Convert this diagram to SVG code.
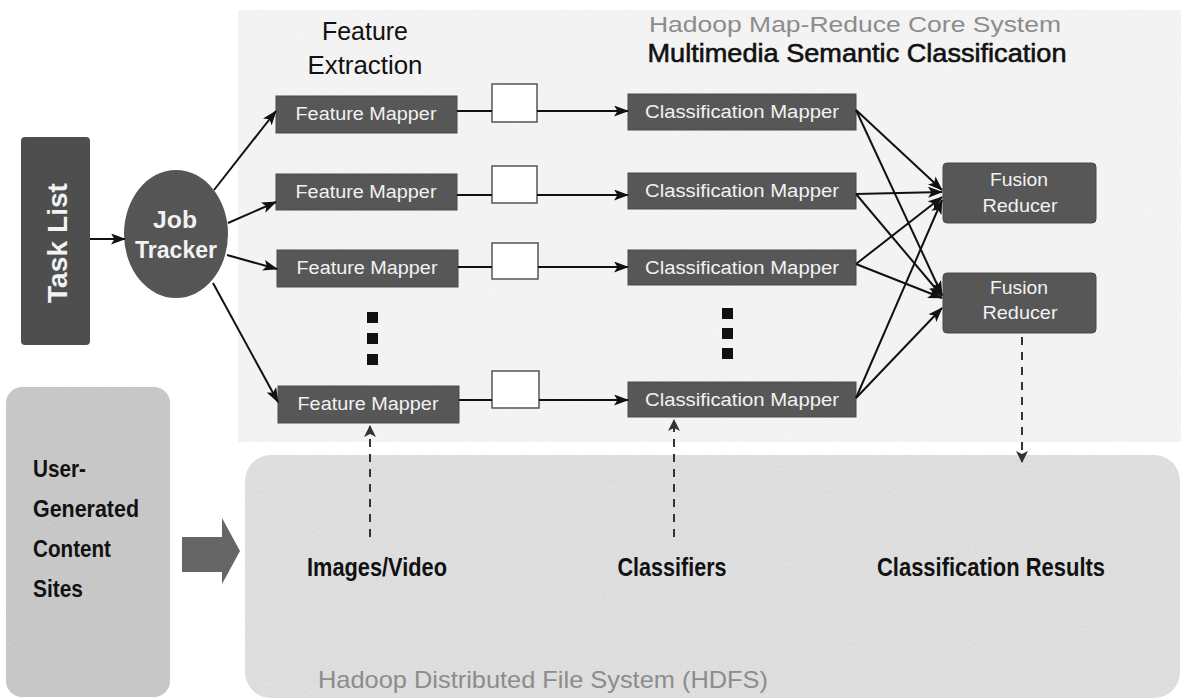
<svg xmlns="http://www.w3.org/2000/svg" width="1181" height="700" viewBox="0 0 1181 700">
  <defs>
    <marker id="arrow" viewBox="0 0 15 11" refX="14" refY="5.5" markerWidth="15" markerHeight="11" markerUnits="userSpaceOnUse" orient="auto">
      <path d="M0,0 L15,5.5 L0,11 L3.5,5.5 Z" fill="#111"/>
    </marker>
    <marker id="arrowDash" viewBox="0 0 12 12" refX="11" refY="6" markerWidth="12" markerHeight="12" markerUnits="userSpaceOnUse" orient="auto">
      <path d="M0,0 L12,6 L0,12 L3,6 Z" fill="#333"/>
    </marker>
    <!-- speckled paper texture for the large shaded areas -->
    <filter id="grain" x="0" y="0" width="100%" height="100%">
      <feTurbulence type="fractalNoise" baseFrequency="0.9 0.35" numOctaves="2" seed="3" result="n"/>
      <feColorMatrix in="n" type="matrix" values="0 0 0 0 0  0 0 0 0 0  0 0 0 0 0  0 0 0 0.12 0" result="dots"/>
      <feComposite in="dots" in2="SourceGraphic" operator="in" result="mask"/>
      <feMerge><feMergeNode in="SourceGraphic"/><feMergeNode in="mask"/></feMerge>
    </filter>
    <filter id="grainLight" x="0" y="0" width="100%" height="100%">
      <feTurbulence type="fractalNoise" baseFrequency="0.9 0.35" numOctaves="2" seed="7" result="n"/>
      <feColorMatrix in="n" type="matrix" values="0 0 0 0 0  0 0 0 0 0  0 0 0 0 0  0 0 0 0.05 0" result="dots"/>
      <feComposite in="dots" in2="SourceGraphic" operator="in" result="mask"/>
      <feMerge><feMergeNode in="SourceGraphic"/><feMergeNode in="mask"/></feMerge>
    </filter>
  </defs>
  <style>
    .box { fill: #575757; stroke: #4a4a4a; stroke-width: 1; }
    .sq { fill: #ffffff; stroke: #555; stroke-width: 1.5; }
    .wt { font-family: "Liberation Sans", Arial, sans-serif; fill: #f2f2f2; text-anchor: middle; }
    .bk { font-family: "Liberation Sans", Arial, sans-serif; fill: #111; text-anchor: middle; }
    .gr { font-family: "Liberation Sans", Arial, sans-serif; fill: #8c8c8c; }
    .b { font-weight: bold; }
    .conn { stroke: #111; stroke-width: 2; fill: none; }
    .dash { stroke: #333; stroke-width: 2; fill: none; stroke-dasharray: 8 7; }
    .dot { fill: #111; }
  </style>

  <rect width="1181" height="700" fill="#ffffff"/>

  <!-- background panels -->
  <g id="core-panel">
    <rect x="238" y="10" width="943" height="432" fill="#f6f6f6" filter="url(#grainLight)"/>
    <text class="gr" x="855" y="32" font-size="22" text-anchor="middle" textLength="412" lengthAdjust="spacingAndGlyphs">Hadoop Map-Reduce Core System</text>
    <text class="bk" x="857" y="62" font-size="26" stroke="#111" stroke-width="0.6" textLength="419" lengthAdjust="spacingAndGlyphs">Multimedia Semantic Classification</text>
    <text class="bk" x="365" y="40" font-size="25" textLength="86" lengthAdjust="spacingAndGlyphs">Feature</text>
    <text class="bk" x="365" y="74" font-size="25" textLength="115" lengthAdjust="spacingAndGlyphs">Extraction</text>
  </g>

  <g id="hdfs">
    <rect x="245" y="455" width="935" height="243" rx="26" fill="#e4e4e4" filter="url(#grain)"/>
    <text class="gr" x="318" y="688" font-size="24" textLength="450" lengthAdjust="spacingAndGlyphs">Hadoop Distributed File System (HDFS)</text>
    <text class="bk b" x="377" y="576" font-size="25" textLength="140" lengthAdjust="spacingAndGlyphs">Images/Video</text>
    <text class="bk b" x="672" y="576" font-size="25" textLength="109" lengthAdjust="spacingAndGlyphs">Classifiers</text>
    <text class="bk b" x="991" y="576" font-size="25" textLength="228" lengthAdjust="spacingAndGlyphs">Classification Results</text>
  </g>

  <g id="ugc-sites">
    <rect x="6" y="387" width="164" height="310" rx="16" fill="#cdcdcd" filter="url(#grain)"/>
    <g class="bk b" font-size="24">
      <text x="33" y="477" text-anchor="start" textLength="53" lengthAdjust="spacingAndGlyphs">User-</text>
      <text x="33" y="517" text-anchor="start" textLength="106" lengthAdjust="spacingAndGlyphs">Generated</text>
      <text x="33" y="557" text-anchor="start" textLength="78" lengthAdjust="spacingAndGlyphs">Content</text>
      <text x="33" y="597" text-anchor="start" textLength="50" lengthAdjust="spacingAndGlyphs">Sites</text>
    </g>
  </g>

  <g id="feed-arrow">
    <path d="M182,537 L222,537 L222,518 L240,551 L222,584 L222,572 L182,572 Z" fill="#666666"/>
  </g>

  <g id="task-list">
    <rect x="21" y="137" width="69" height="208" rx="4" fill="#4e4e4e"/>
    <text class="wt b" x="0" y="0" font-size="27" transform="translate(67,243) rotate(-90)" textLength="120" lengthAdjust="spacingAndGlyphs">Task List</text>
  </g>

  <g id="job-tracker">
    <ellipse cx="176" cy="234" rx="52" ry="64" fill="#555555"/>
    <text class="wt b" x="175" y="228" font-size="23" textLength="44" lengthAdjust="spacingAndGlyphs">Job</text>
    <text class="wt b" x="176" y="258" font-size="23" textLength="82" lengthAdjust="spacingAndGlyphs">Tracker</text>
  </g>

  <!-- feature mappers -->
  <g id="fm1"><rect class="box" x="276" y="96" width="181" height="37"/><text class="wt" x="366" y="120" font-size="18" textLength="141" lengthAdjust="spacingAndGlyphs">Feature Mapper</text></g>
  <g id="fm2"><rect class="box" x="276" y="174" width="181" height="36"/><text class="wt" x="366" y="198" font-size="18" textLength="141" lengthAdjust="spacingAndGlyphs">Feature Mapper</text></g>
  <g id="fm3"><rect class="box" x="277" y="250" width="181" height="37"/><text class="wt" x="367" y="274" font-size="18" textLength="141" lengthAdjust="spacingAndGlyphs">Feature Mapper</text></g>
  <g id="fm4"><rect class="box" x="278" y="386" width="181" height="37"/><text class="wt" x="368" y="410" font-size="18" textLength="141" lengthAdjust="spacingAndGlyphs">Feature Mapper</text></g>

  <!-- intermediate buffers -->
  <g id="buf1"><rect class="sq" x="492" y="84" width="45" height="38"/></g>
  <g id="buf2"><rect class="sq" x="492" y="166" width="45" height="37"/></g>
  <g id="buf3"><rect class="sq" x="492" y="243" width="46" height="36"/></g>
  <g id="buf4"><rect class="sq" x="492" y="371" width="47" height="37"/></g>

  <!-- classification mappers -->
  <g id="cm1"><rect class="box" x="628" y="94" width="228" height="36"/><text class="wt" x="742" y="118" font-size="18" textLength="194" lengthAdjust="spacingAndGlyphs">Classification Mapper</text></g>
  <g id="cm2"><rect class="box" x="628" y="173" width="228" height="36"/><text class="wt" x="742" y="197" font-size="18" textLength="194" lengthAdjust="spacingAndGlyphs">Classification Mapper</text></g>
  <g id="cm3"><rect class="box" x="628" y="250" width="228" height="35"/><text class="wt" x="742" y="274" font-size="18" textLength="194" lengthAdjust="spacingAndGlyphs">Classification Mapper</text></g>
  <g id="cm4"><rect class="box" x="628" y="382" width="228" height="35"/><text class="wt" x="742" y="406" font-size="18" textLength="194" lengthAdjust="spacingAndGlyphs">Classification Mapper</text></g>

  <!-- fusion reducers -->
  <g id="fr1"><rect class="box" x="943" y="163" width="153" height="60" rx="4"/><text class="wt" x="1019" y="186" font-size="19" textLength="58" lengthAdjust="spacingAndGlyphs">Fusion</text><text class="wt" x="1020" y="212" font-size="19" textLength="75" lengthAdjust="spacingAndGlyphs">Reducer</text></g>
  <g id="fr2"><rect class="box" x="943" y="273" width="153" height="60" rx="4"/><text class="wt" x="1019" y="294" font-size="19" textLength="58" lengthAdjust="spacingAndGlyphs">Fusion</text><text class="wt" x="1020" y="319" font-size="19" textLength="75" lengthAdjust="spacingAndGlyphs">Reducer</text></g>

  <!-- ellipsis marks -->
  <g id="fm-more">
    <rect class="dot" x="367" y="312" width="11" height="11"/>
    <rect class="dot" x="367" y="333" width="11" height="11"/>
    <rect class="dot" x="367" y="354" width="11" height="11"/>
  </g>
  <g id="cm-more">
    <rect class="dot" x="722" y="308" width="11" height="11"/>
    <rect class="dot" x="722" y="328" width="11" height="11"/>
    <rect class="dot" x="722" y="348" width="11" height="11"/>
  </g>

  <g id="connectors">
    <line class="conn" x1="90" y1="239" x2="125" y2="239" marker-end="url(#arrow)"/>
    <line class="conn" x1="214" y1="190" x2="276" y2="111" marker-end="url(#arrow)"/>
    <line class="conn" x1="228" y1="223" x2="276" y2="202" marker-end="url(#arrow)"/>
    <line class="conn" x1="227" y1="255" x2="277" y2="269" marker-end="url(#arrow)"/>
    <line class="conn" x1="213" y1="283" x2="278" y2="402" marker-end="url(#arrow)"/>

    <line class="conn" x1="457" y1="111" x2="492" y2="111"/>
    <line class="conn" x1="537" y1="111" x2="628" y2="111" marker-end="url(#arrow)"/>
    <line class="conn" x1="457" y1="195" x2="492" y2="195"/>
    <line class="conn" x1="537" y1="195" x2="628" y2="195" marker-end="url(#arrow)"/>
    <line class="conn" x1="458" y1="267" x2="492" y2="267"/>
    <line class="conn" x1="538" y1="267" x2="628" y2="267" marker-end="url(#arrow)"/>
    <line class="conn" x1="459" y1="400" x2="492" y2="400"/>
    <line class="conn" x1="539" y1="400" x2="628" y2="400" marker-end="url(#arrow)"/>

    <line class="conn" x1="856" y1="110" x2="942" y2="190" marker-end="url(#arrow)"/>
    <line class="conn" x1="856" y1="110" x2="942" y2="295" marker-end="url(#arrow)"/>
    <line class="conn" x1="856" y1="194" x2="942" y2="192" marker-end="url(#arrow)"/>
    <line class="conn" x1="856" y1="194" x2="942" y2="296" marker-end="url(#arrow)"/>
    <line class="conn" x1="856" y1="264" x2="942" y2="197" marker-end="url(#arrow)"/>
    <line class="conn" x1="856" y1="264" x2="942" y2="298" marker-end="url(#arrow)"/>
    <line class="conn" x1="856" y1="398" x2="942" y2="200" marker-end="url(#arrow)"/>
    <line class="conn" x1="856" y1="398" x2="942" y2="308" marker-end="url(#arrow)"/>

    <line class="dash" x1="370" y1="537" x2="370" y2="426" marker-end="url(#arrowDash)"/>
    <line class="dash" x1="674" y1="537" x2="674" y2="420" marker-end="url(#arrowDash)"/>
    <line class="dash" x1="1022" y1="337" x2="1022" y2="462" marker-end="url(#arrowDash)"/>
  </g>
</svg>
